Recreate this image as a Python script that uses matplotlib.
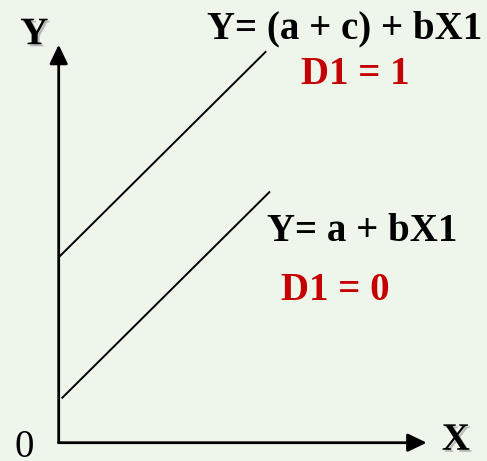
import matplotlib
matplotlib.use("Agg")
import matplotlib.pyplot as plt
import matplotlib.patheffects as pe
import numpy as np

# Conceptual dummy-variable diagram: two parallel lines, intercepts a and a + c
a = 1.035   # intercept when D1 = 0
c = 3.60    # shift from the dummy
b = 0.993   # common slope
x_low = [0.09, 5.265]
x_high = [0.03, 5.17]
x_axis_end = 9.2
y_axis_end = 9.95

bg = "#eef6ec"
red = "#c40000"
font = "Liberation Serif"

fig = plt.figure(figsize=(4.87, 4.61), dpi=100, facecolor=bg)
ax = fig.add_axes([0, 0, 1, 1])
ax.set_facecolor(bg)
# 40 px per unit, origin at pixel (58.7, 442.7)
ax.set_xlim(-58.7 / 40, (487 - 58.7) / 40)
ax.set_ylim(-18.3 / 40, (461 - 18.3) / 40)
ax.axis("off")

# axes arrows
arrow = dict(arrowstyle="-|>,head_length=1.15,head_width=0.55", color="black",
             lw=2, shrinkA=0, shrinkB=0)
ax.annotate("", xy=(x_axis_end, 0), xytext=(0, 0), arrowprops=arrow)
ax.annotate("", xy=(0, y_axis_end), xytext=(0, 0), arrowprops=arrow)

# the two regression lines
xl = np.array(x_low)
xh = np.array(x_high)
ax.plot(xl, a + b * xl, color="black", lw=1.4)
ax.plot(xh, a + c + b * xh, color="black", lw=1.4)

kw = dict(fontfamily=font, fontweight="bold", fontsize=28, va="center")
shadow = [pe.SimplePatchShadow(offset=(1.5, -1.5), shadow_rgbFace="gray", alpha=0.5),
          pe.Normal()]
ax.text(-0.61, 10.2, "Y", ha="center", path_effects=shadow, **kw)
ax.text(9.93, 0.06, "X", ha="center", path_effects=shadow, **kw)
ax.text(-0.87, -0.13, "0", ha="center", fontfamily=font, fontsize=28, va="center")

ax.text(3.7, 10.35, "Y= (a + c) + bX1", ha="left", **kw)
ax.text(6.05, 9.2, "D1 = 1", ha="left", color=red, **kw)
ax.text(5.2, 5.27, "Y= a + bX1", ha="left", **kw)
ax.text(5.55, 3.8, "D1 = 0", ha="left", color=red, **kw)

fig.savefig("out.png", dpi=100, facecolor=bg)
